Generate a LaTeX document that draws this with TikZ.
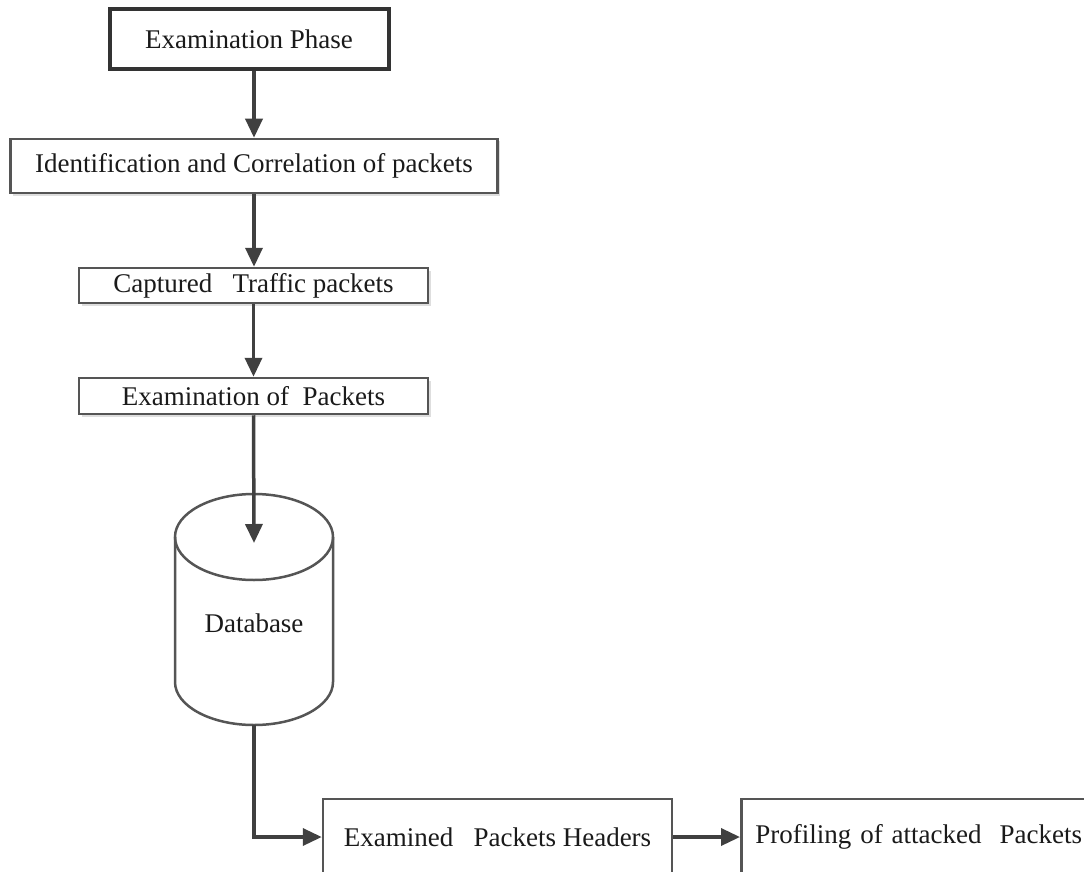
\documentclass[tikz,border=0pt]{standalone}
\usepackage{fontspec}
\setmainfont{Liberation Serif}
\usetikzlibrary{arrows.meta,shadows}
\definecolor{ink}{HTML}{1A1A1A}
\definecolor{edge}{HTML}{555555}
\definecolor{wire}{HTML}{404040}
\tikzset{
  box/.style={draw=edge, line width=2.5pt, fill=white, inner sep=0pt, text=ink,
    font=\fontsize{27}{32}\selectfont},
  headbox/.style={box, draw=black!80, line width=4pt},
  shadowbox/.style={box, drop shadow={shadow xshift=2.5pt, shadow yshift=-2.5pt, fill=black!25}},
  cyl/.style={draw=edge, line width=2.5pt},
  flow/.style={draw=wire, line width=3.5pt, -{Triangle[length=19pt,width=17pt]}},
}
\begin{document}
\begin{tikzpicture}[x=1pt,y=-1pt]
\clip (0,0) rectangle (1084,872);
\fill[white] (0,0) rectangle (1084,872);

% process chain
\node[headbox, minimum width=279pt, minimum height=60pt] (phase) at (249,39) {Examination Phase};
\node[shadowbox, minimum width=487pt, minimum height=54pt] (ident) at (254,166)
  {Identification and Correlation of packets};
\node[shadowbox, minimum width=349pt, minimum height=35pt] (captured) at (253.5,285.5)
  {Captured\ \ \ Traffic packets};
\node[shadowbox, minimum width=349pt, minimum height=36pt] (exam) at (253.5,396)
  {Examination of~ Packets};

% database cylinder
\draw[cyl, fill=white] (175,537) -- (175,682)
  arc[start angle=180, end angle=0, x radius=79, y radius=43] -- (333,537);
\draw[cyl] (254,537) ellipse[x radius=79, y radius=43];
\node[text=ink, font=\fontsize{27}{32}\selectfont, inner sep=0pt] (db) at (254,623) {Database};
\coordinate (dbtop) at (254,543);
\coordinate (dbfoot) at (254,725);

% output boxes
\node[box, minimum width=349pt, minimum height=76pt] (headers) at (497.5,837)
  {Examined\ \ \ Packets Headers};
\node[box, anchor=west, text width=400pt, align=left, inner xsep=14pt,
  minimum height=76pt] (profile) at (740,837) {Profiling of attacked~ Packets};

% connectors
\draw[flow] (phase.south -| ident.north) -- (ident.north);
\draw[flow] (ident.south) -- (ident.south |- captured.north);
\draw[flow] (captured.south) -- (captured.south |- exam.north);
\draw[flow] (exam.south) -- (dbtop);
\draw[flow] (dbfoot) |- (headers.west);
\draw[flow] (headers.east) -- (profile.west);
\end{tikzpicture}
\end{document}
